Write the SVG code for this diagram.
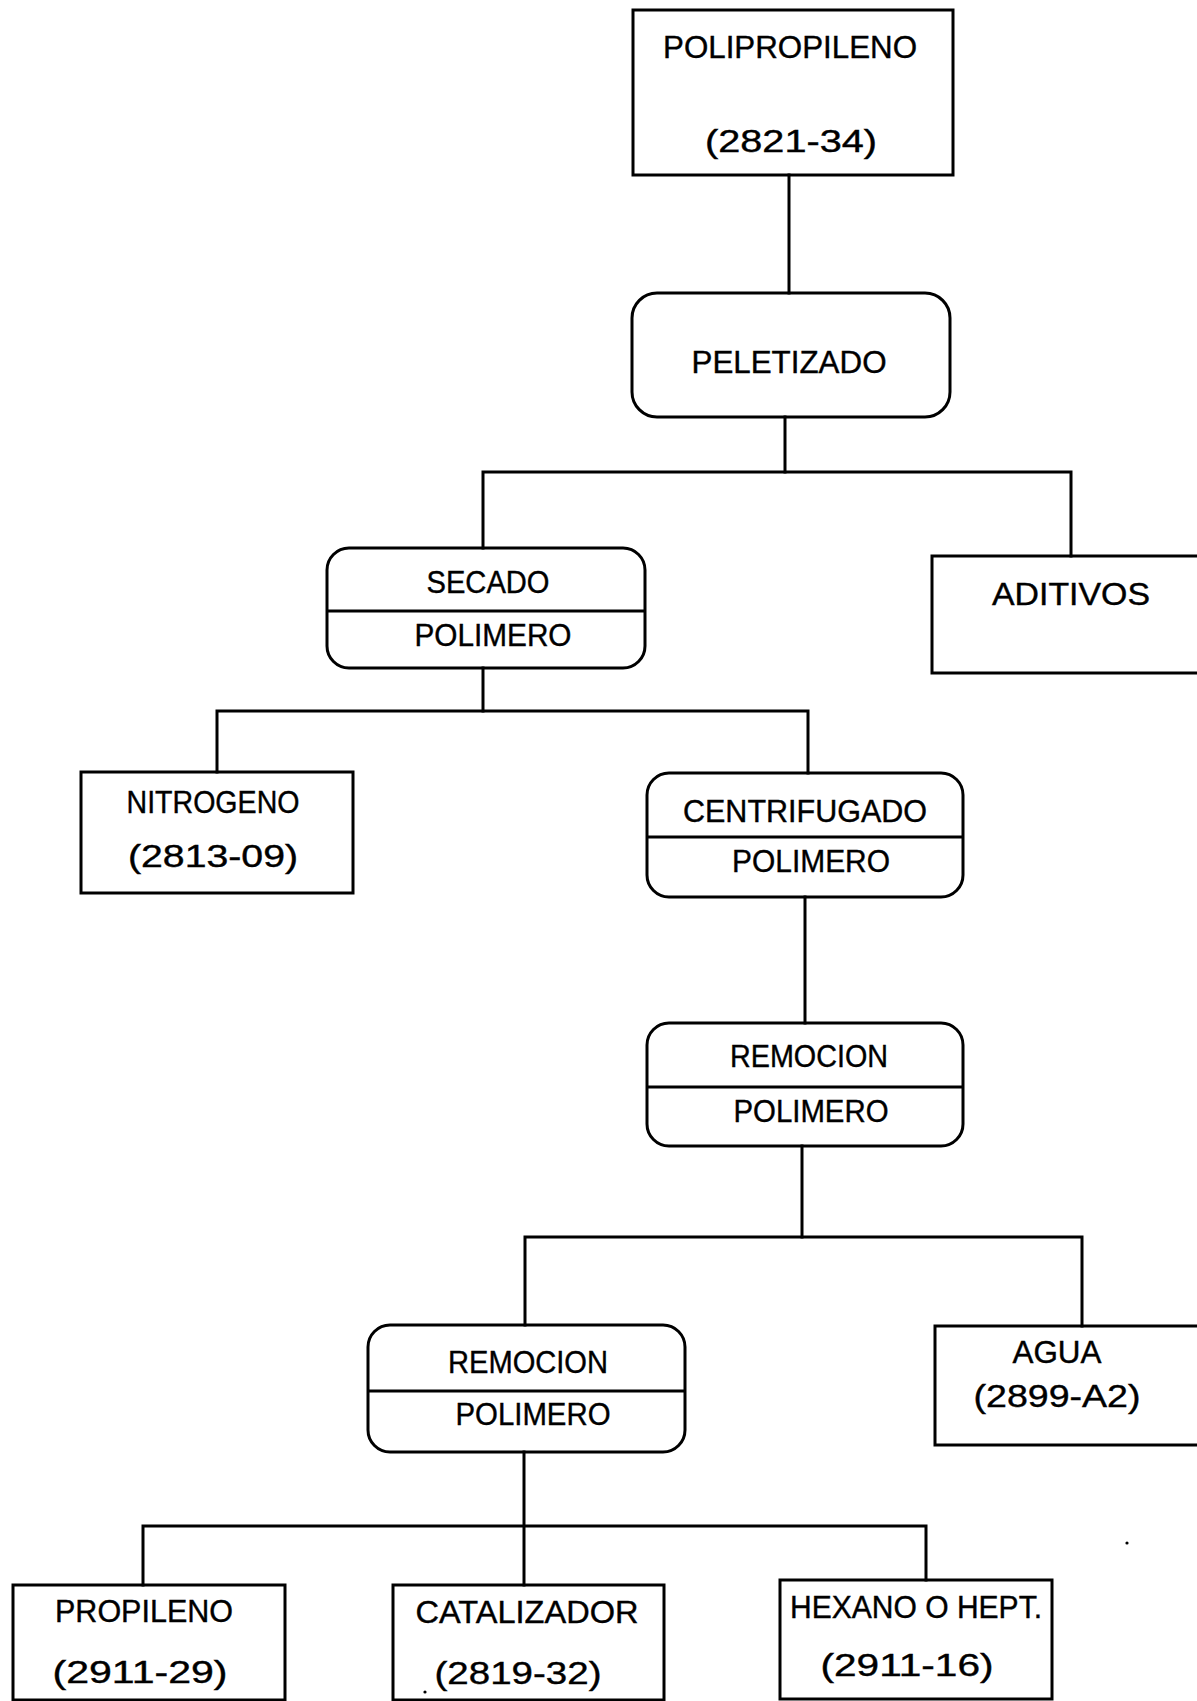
<svg xmlns="http://www.w3.org/2000/svg" width="1197" height="1701" viewBox="0 0 1197 1701">
  <style>
    .box { fill: none; stroke: #000; stroke-width: 3; }
    .wire { fill: none; stroke: #000; stroke-width: 3; stroke-linecap: square; }
    .lbl { font-family: "Liberation Sans", Arial, sans-serif; font-size: 32px; fill: #000; stroke: #000; stroke-width: 0.4; text-anchor: middle; }
  </style>
  <rect width="1197" height="1701" fill="#fff"/>

  <!-- connectors -->
  <g id="connectors">
    <path class="wire" d="M789 175 V293"/>
    <path class="wire" d="M785 417 V472"/>
    <path class="wire" d="M483 472 H1071 M483 472 V548 M1071 472 V556"/>
    <path class="wire" d="M483 668 V711"/>
    <path class="wire" d="M217 711 H808 M217 711 V772 M808 711 V773"/>
    <path class="wire" d="M805 897 V1023"/>
    <path class="wire" d="M802 1146 V1237"/>
    <path class="wire" d="M525 1237 H1082 M525 1237 V1325 M1082 1237 V1326"/>
    <path class="wire" d="M524 1452 V1585"/>
    <path class="wire" d="M143 1526 H926 M143 1526 V1585 M926 1526 V1580"/>
  </g>

  <g id="polipropileno">
    <rect class="box" x="633" y="10" width="320" height="165"/>
    <text class="lbl" x="790" y="58" textLength="254" lengthAdjust="spacingAndGlyphs">POLIPROPILENO</text>
    <text class="lbl" x="791" y="152" textLength="172" lengthAdjust="spacingAndGlyphs">(2821-34)</text>
  </g>

  <g id="peletizado">
    <rect class="box" x="632" y="293" width="318" height="124" rx="25" ry="25"/>
    <text class="lbl" x="789" y="373" textLength="195" lengthAdjust="spacingAndGlyphs">PELETIZADO</text>
  </g>

  <g id="secado">
    <rect class="box" x="327" y="548" width="318" height="120" rx="22" ry="22"/>
    <line class="box" x1="327" y1="611" x2="645" y2="611"/>
    <text class="lbl" x="488" y="593" textLength="123" lengthAdjust="spacingAndGlyphs">SECADO</text>
    <text class="lbl" x="493" y="646" textLength="157" lengthAdjust="spacingAndGlyphs">POLIMERO</text>
  </g>

  <g id="aditivos">
    <rect class="box" x="932" y="556" width="320" height="117"/>
    <text class="lbl" x="1071" y="605" textLength="158" lengthAdjust="spacingAndGlyphs">ADITIVOS</text>
  </g>

  <g id="nitrogeno">
    <rect class="box" x="81" y="772" width="272" height="121"/>
    <text class="lbl" x="213" y="813" textLength="173" lengthAdjust="spacingAndGlyphs">NITROGENO</text>
    <text class="lbl" x="213" y="867" textLength="170" lengthAdjust="spacingAndGlyphs">(2813-09)</text>
  </g>

  <g id="centrifugado">
    <rect class="box" x="647" y="773" width="316" height="124" rx="22" ry="22"/>
    <line class="box" x1="647" y1="837" x2="963" y2="837"/>
    <text class="lbl" x="805" y="822" textLength="244" lengthAdjust="spacingAndGlyphs">CENTRIFUGADO</text>
    <text class="lbl" x="811" y="872" textLength="158" lengthAdjust="spacingAndGlyphs">POLIMERO</text>
  </g>

  <g id="remocion-1">
    <rect class="box" x="647" y="1023" width="316" height="123" rx="22" ry="22"/>
    <line class="box" x1="647" y1="1087" x2="963" y2="1087"/>
    <text class="lbl" x="809" y="1067" textLength="158" lengthAdjust="spacingAndGlyphs">REMOCION</text>
    <text class="lbl" x="811" y="1122" textLength="155" lengthAdjust="spacingAndGlyphs">POLIMERO</text>
  </g>

  <g id="remocion-2">
    <rect class="box" x="368" y="1325" width="317" height="127" rx="22" ry="22"/>
    <line class="box" x1="368" y1="1391" x2="685" y2="1391"/>
    <text class="lbl" x="528" y="1373" textLength="160" lengthAdjust="spacingAndGlyphs">REMOCION</text>
    <text class="lbl" x="533" y="1425" textLength="155" lengthAdjust="spacingAndGlyphs">POLIMERO</text>
  </g>

  <g id="agua">
    <rect class="box" x="935" y="1326" width="300" height="119"/>
    <text class="lbl" x="1057" y="1363" textLength="89" lengthAdjust="spacingAndGlyphs">AGUA</text>
    <text class="lbl" x="1057" y="1407" textLength="167" lengthAdjust="spacingAndGlyphs">(2899-A2)</text>
  </g>

  <g id="propileno">
    <rect class="box" x="13" y="1585" width="272" height="115"/>
    <text class="lbl" x="144" y="1622" textLength="178" lengthAdjust="spacingAndGlyphs">PROPILENO</text>
    <text class="lbl" x="140" y="1683" textLength="175" lengthAdjust="spacingAndGlyphs">(2911-29)</text>
  </g>

  <g id="catalizador">
    <rect class="box" x="393" y="1585" width="271" height="115"/>
    <text class="lbl" x="527" y="1623" textLength="223" lengthAdjust="spacingAndGlyphs">CATALIZADOR</text>
    <text class="lbl" x="518" y="1684" textLength="167" lengthAdjust="spacingAndGlyphs">(2819-32)</text>
    <circle cx="425" cy="1692" r="1.6" fill="#000"/>
  </g>

  <g id="hexano">
    <rect class="box" x="780" y="1580" width="272" height="119"/>
    <text class="lbl" x="916" y="1618" textLength="252" lengthAdjust="spacingAndGlyphs">HEXANO O HEPT.</text>
    <text class="lbl" x="907" y="1676" textLength="173" lengthAdjust="spacingAndGlyphs">(2911-16)</text>
  </g>

  <!-- stray ink mark -->
  <circle cx="1127" cy="1543" r="1.6" fill="#000"/>
</svg>
